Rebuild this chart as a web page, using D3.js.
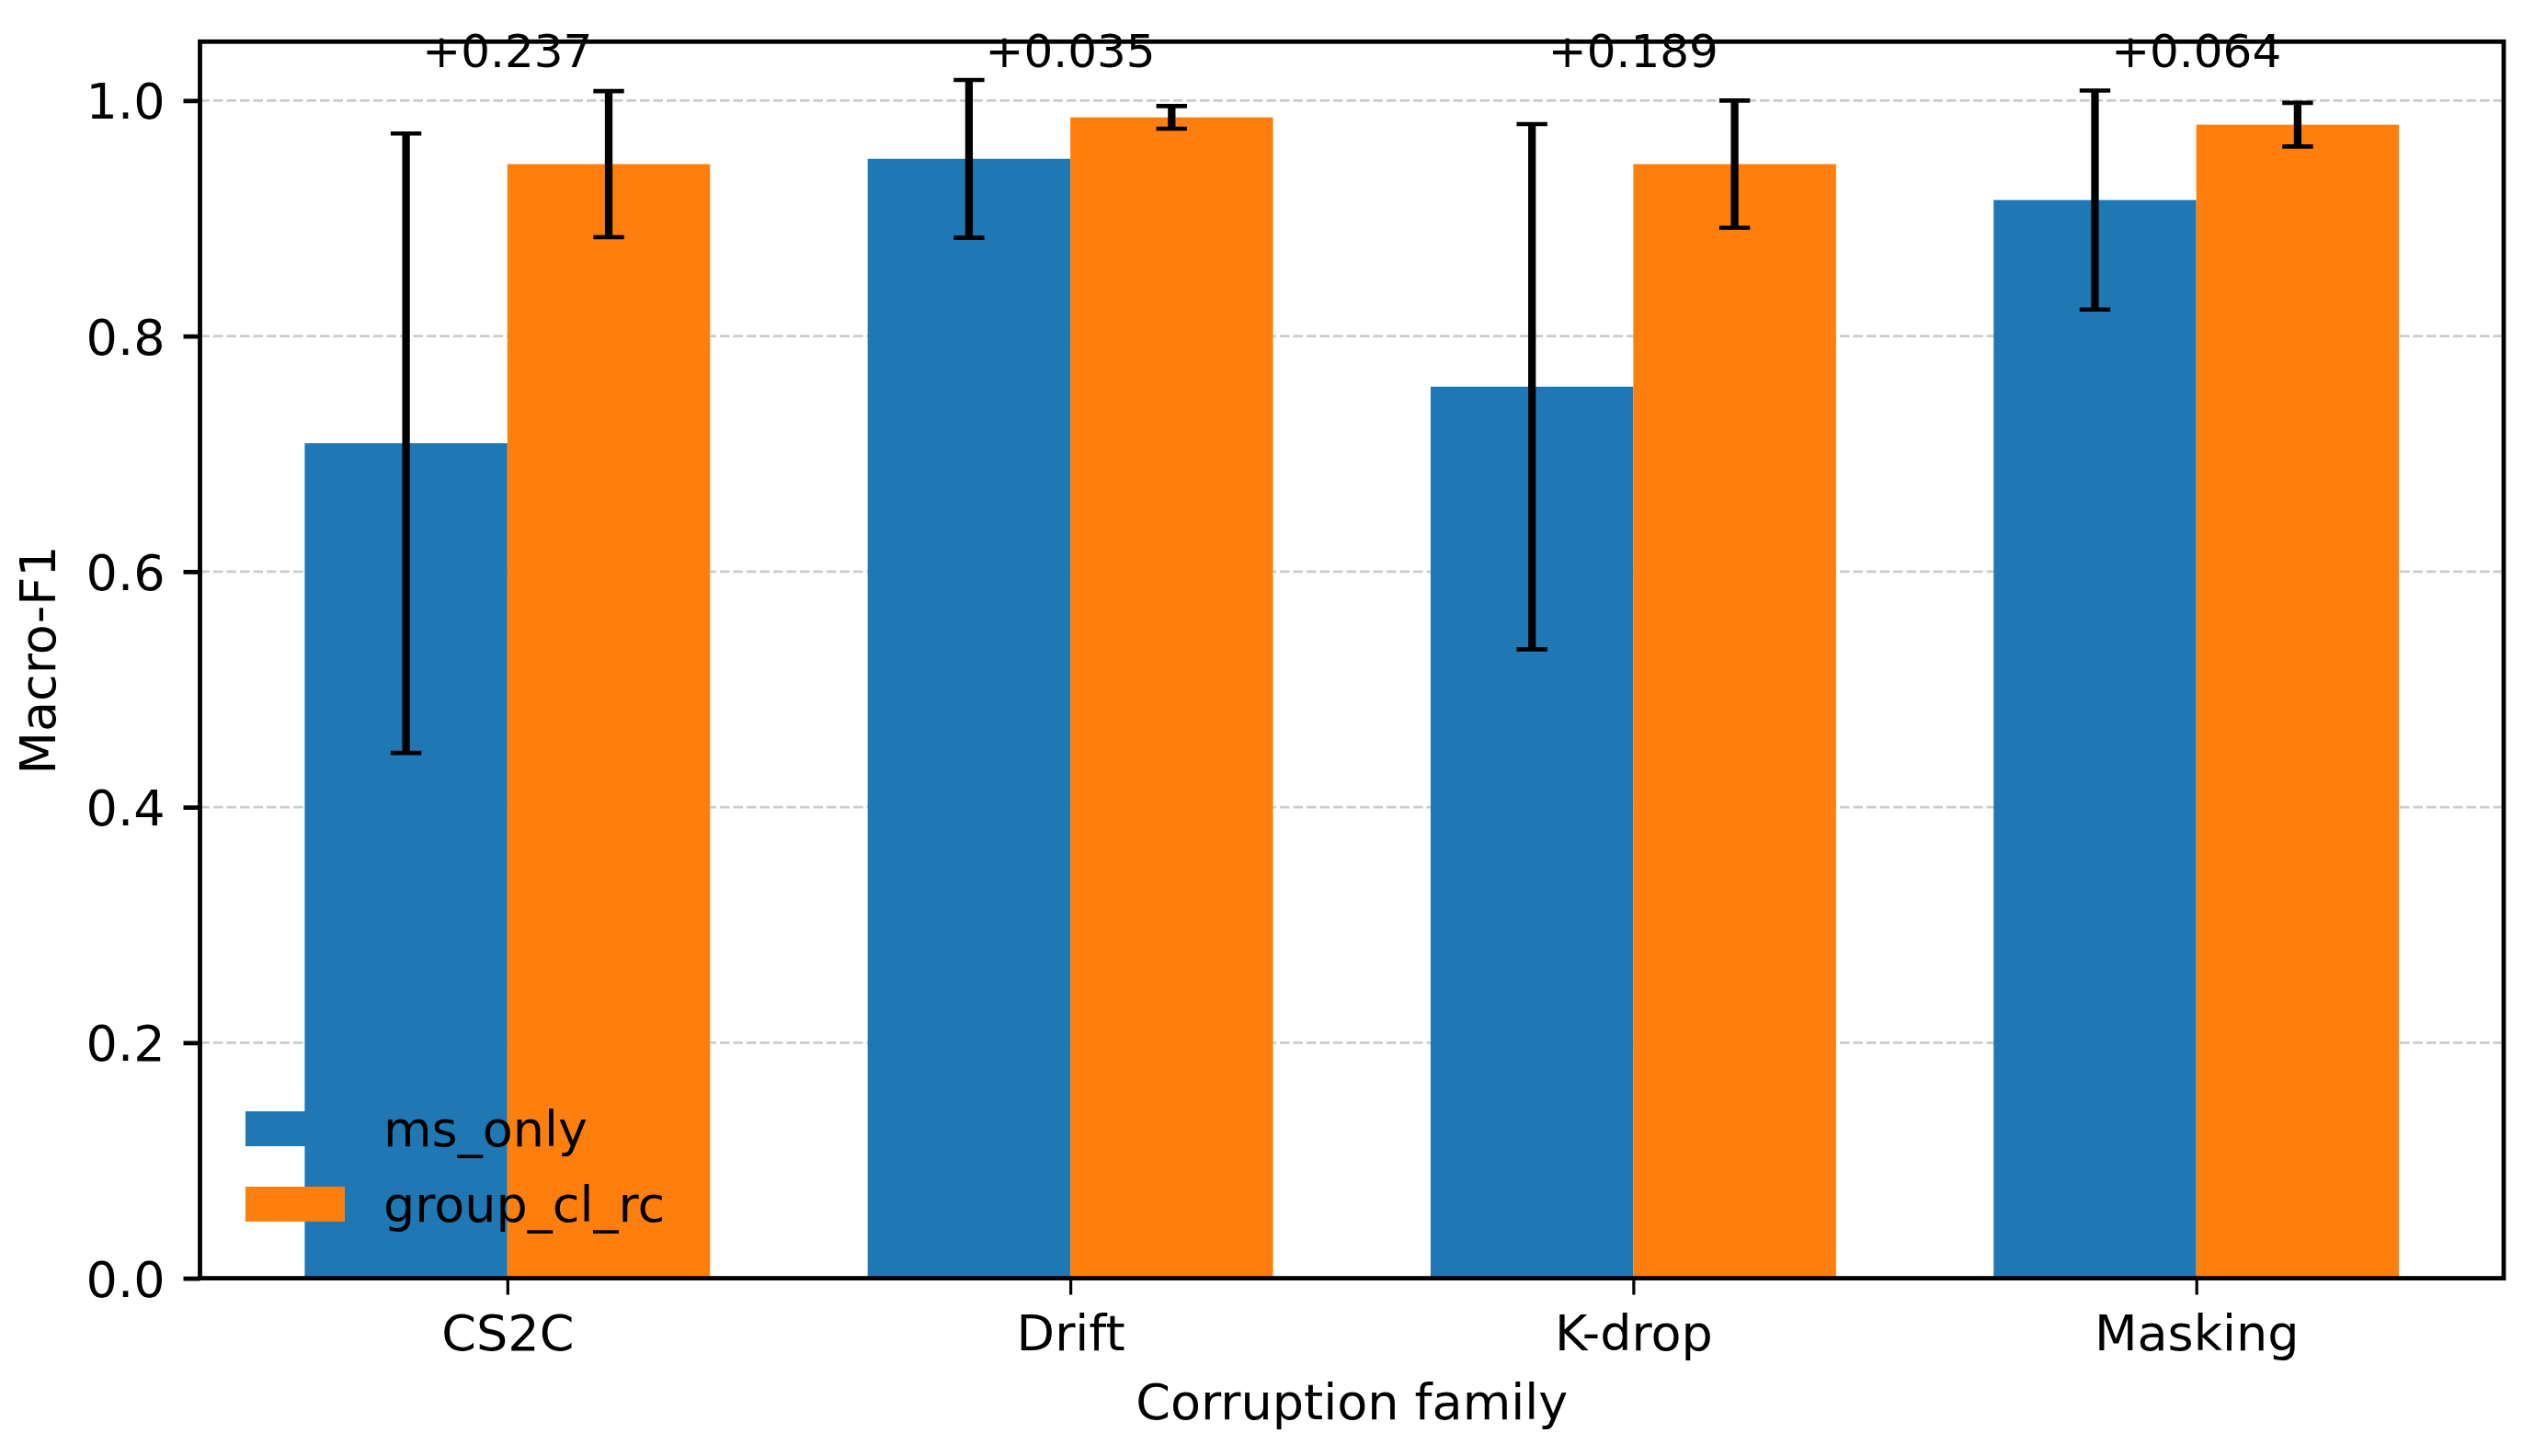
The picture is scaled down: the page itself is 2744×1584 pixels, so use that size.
<!DOCTYPE html>
<html>
<head>
<meta charset="utf-8">
<script src="https://cdn.jsdelivr.net/npm/d3@7/dist/d3.min.js"></script>
<style>
  html, body { margin: 0; padding: 0; background: #fff; }
  svg { display: block; font-family: "DejaVu Sans", sans-serif; }
</style>
</head>
<body>
<svg id="chart" width="2744" height="1584"></svg>
<script>
// ---- data ----
const categories = ["CS2C", "Drift", "K-drop", "Masking"];
const seriesNames = ["ms_only", "group_cl_rc"];
const msOnly = [0.709, 0.9505, 0.757, 0.9155];
const msOnlyErr = [0.263, 0.067, 0.223, 0.093];
const groupClRc = [0.946, 0.9857, 0.946, 0.9795];
const groupClRcErr = [0.062, 0.0096, 0.054, 0.0185];
const deltaLabels = ["+0.237", "+0.035", "+0.189", "+0.064"];
const yTicks = [0.0, 0.2, 0.4, 0.6, 0.8, 1.0];
const colors = ["#1f77b4", "#ff7f0e"];
const barWidth = 0.36;
const labelY = 1.028;

// ---- layout ----
const plotL = 217.5, plotR = 2723, plotT = 45.3, plotB = 1390.6;
const svg = d3.select("#chart");

const xMargin = (categories.length - 1 + 2 * barWidth) * 0.05;
const x = d3.scaleLinear()
  .domain([-barWidth - xMargin, categories.length - 1 + barWidth + xMargin])
  .range([plotL, plotR]);
const y = d3.scaleLinear().domain([0, 1.05]).range([plotB, plotT]);

// grid
svg.append("g").selectAll("line").data(yTicks).join("line")
  .attr("x1", plotL).attr("x2", plotR)
  .attr("y1", d => y(d)).attr("y2", d => y(d))
  .attr("stroke", "#cccccc").attr("stroke-width", 2.6)
  .attr("stroke-dasharray", "10.5,4");

const series = [
  { name: seriesNames[0], values: msOnly, errs: msOnlyErr, offset: -barWidth / 2, color: colors[0] },
  { name: seriesNames[1], values: groupClRc, errs: groupClRcErr, offset: barWidth / 2, color: colors[1] }
];

// bars
series.forEach(s => {
  svg.append("g").selectAll("rect").data(s.values).join("rect")
    .attr("x", (d, i) => x(i + s.offset - barWidth / 2))
    .attr("width", x(barWidth) - x(0))
    .attr("y", d => y(d))
    .attr("height", d => y(0) - y(d))
    .attr("fill", s.color);
});

// error bars
const capHalf = 16.7;
series.forEach(s => {
  const g = svg.append("g");
  s.values.forEach((v, i) => {
    const cx = x(i + s.offset);
    const lo = y(v - s.errs[i]), hi = y(v + s.errs[i]);
    g.append("line").attr("x1", cx).attr("x2", cx).attr("y1", lo).attr("y2", hi)
      .attr("stroke", "#000").attr("stroke-width", 8.3);
    [lo, hi].forEach(yy => {
      g.append("line").attr("x1", cx - capHalf).attr("x2", cx + capHalf)
        .attr("y1", yy).attr("y2", yy)
        .attr("stroke", "#000").attr("stroke-width", 4.6);
    });
  });
});

// delta labels
svg.append("g").selectAll("text").data(deltaLabels).join("text")
  .attr("x", (d, i) => x(i))
  .attr("y", y(labelY))
  .attr("text-anchor", "middle")
  .attr("font-size", 50)
  .attr("fill", "#000")
  .text(d => d);

// axes frame
svg.append("rect")
  .attr("x", plotL).attr("y", plotT)
  .attr("width", plotR - plotL).attr("height", plotB - plotT)
  .attr("fill", "none").attr("stroke", "#000").attr("stroke-width", 4.8);

// y axis
const yAxis = d3.axisLeft(y).tickValues(yTicks).tickFormat(d3.format(".1f"))
  .tickSize(18).tickPadding(20);
const gy = svg.append("g").attr("transform", `translate(${plotL},0)`).call(yAxis);
gy.select(".domain").remove();
gy.selectAll(".tick line").attr("stroke", "#000").attr("stroke-width", 4.8);
gy.selectAll(".tick text").attr("font-size", 54).attr("fill", "#000")
  .attr("font-family", "DejaVu Sans").attr("dy", "0.36em");

// x axis
const xAxis = d3.axisBottom(x).tickValues(d3.range(categories.length))
  .tickFormat(i => categories[i]).tickSize(18).tickPadding(20);
const gx = svg.append("g").attr("transform", `translate(0,${plotB})`).call(xAxis);
gx.select(".domain").remove();
gx.selectAll(".tick line").attr("stroke", "#000").attr("stroke-width", 3.2);
gx.selectAll(".tick text").attr("font-size", 54).attr("fill", "#000")
  .attr("font-family", "DejaVu Sans").attr("dy", null).attr("y", 78.7);

// axis labels
svg.append("text")
  .attr("x", (plotL + plotR) / 2).attr("y", 1544)
  .attr("text-anchor", "middle").attr("font-size", 54).attr("fill", "#000")
  .text("Corruption family");
svg.append("text")
  .attr("transform", `translate(60,${(plotT + plotB) / 2}) rotate(-90)`)
  .attr("text-anchor", "middle").attr("font-size", 54).attr("fill", "#000")
  .text("Macro-F1");

// legend
const legend = svg.append("g");
series.forEach((s, i) => {
  const yy = 1209 + i * 82;
  legend.append("rect").attr("x", 267).attr("y", yy).attr("width", 108).attr("height", 38)
    .attr("fill", s.color);
  legend.append("text").attr("x", 417).attr("y", yy + 38)
    .attr("font-size", 54).attr("fill", "#000").text(s.name);
});
</script>
</body>
</html>
